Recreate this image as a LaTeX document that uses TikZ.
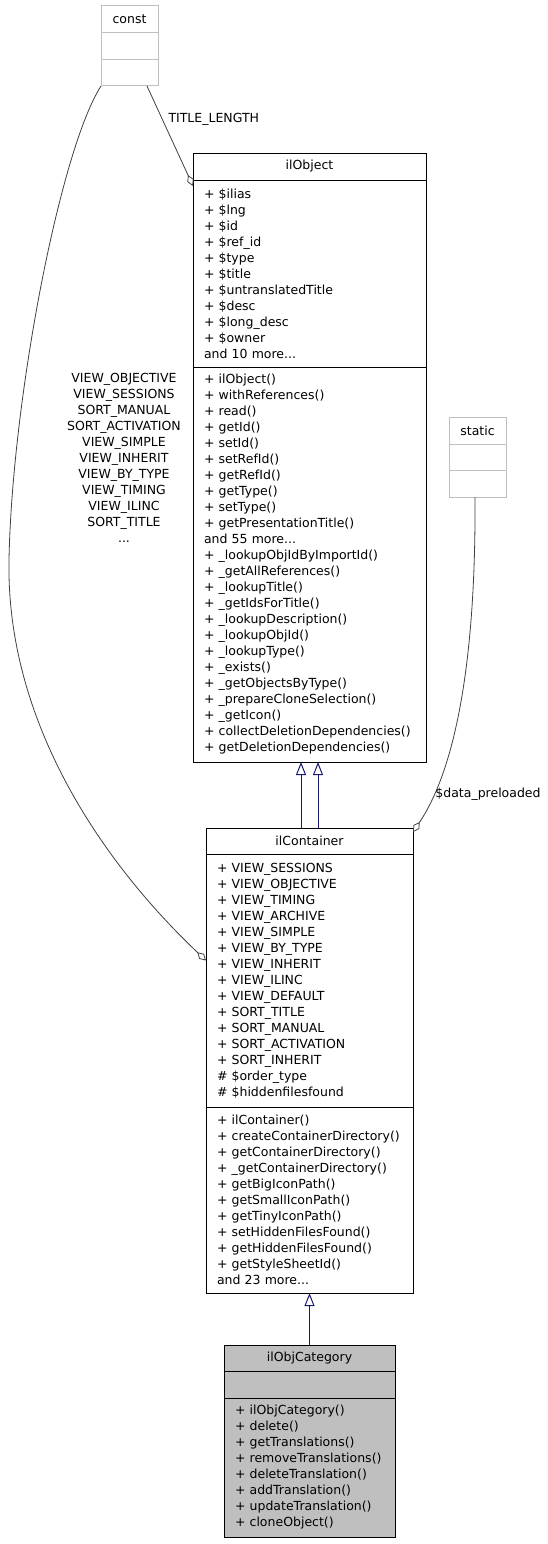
\documentclass[tikz,border=0pt]{standalone}
\usepackage{fontspec}
\setmainfont{DejaVu Sans}
\usetikzlibrary{arrows.meta,positioning}
\definecolor{grey75}{gray}{0.75}
\definecolor{grey25}{gray}{0.25}
\definecolor{midblue}{RGB}{25,25,112}

\begin{document}
\begin{tikzpicture}[x=1pt,y=-1pt,
    every node/.style={font=\fontsize{12.5pt}{16pt}\selectfont,inner ysep=0pt,outer sep=0pt,text=black},
    cls/.style={draw=black,line width=1pt,fill=white,inner xsep=11pt},
    hd/.style={cls,align=center},
    bd/.style={cls,align=left},
    ext/.style={draw=grey75,line width=1pt,fill=white,minimum width=57pt},
    inherit/.style={midblue,line width=1pt,-{Triangle[open,length=13pt,width=10pt]}},
    aggr/.style={grey25,line width=0.8pt,-{Diamond[open,length=12pt,width=7pt]}}]
  \useasboundingbox(0,0)rectangle(548,1544);
  % outside names
  \node[ext,minimum height=27pt](constT)at(129.5,19.5){const};
  \node[ext,minimum height=27pt,below=0pt of constT](constA){};
  \node[ext,minimum height=26pt,below=0pt of constA](constM){};
  \node[ext,minimum height=27pt](staticT)at(477.5,430.5){static};
  \node[ext,minimum height=26pt,below=0pt of staticT](staticA){};
  \node[ext,minimum height=27pt,below=0pt of staticA](staticM){};
  % ilObject
  \node[hd,text width=211pt,minimum height=27pt](objT)at(309.5,166.5){ilObject};
  \node[bd,text width=211pt,minimum height=187pt,below=0pt of objT](objA){%
    + \$ilias\\+ \$lng\\+ \$id\\+ \$ref\_id\\+ \$type\\+ \$title\\
    + \$untranslatedTitle\\+ \$desc\\+ \$long\_desc\\+ \$owner\\and 10 more...};
  \node[bd,text width=211pt,minimum height=395pt,below=0pt of objA](objM){%
    + ilObject()\\+ withReferences()\\+ read()\\+ getId()\\+ setId()\\
    + setRefId()\\+ getRefId()\\+ getType()\\+ setType()\\
    + getPresentationTitle()\\and 55 more...\\+ \_lookupObjIdByImportId()\\
    + \_getAllReferences()\\+ \_lookupTitle()\\+ \_getIdsForTitle()\\
    + \_lookupDescription()\\+ \_lookupObjId()\\+ \_lookupType()\\
    + \_exists()\\+ \_getObjectsByType()\\+ \_prepareCloneSelection()\\
    + \_getIcon()\\+ collectDeletionDependencies()\\+ getDeletionDependencies()};
  % ilContainer
  \node[hd,text width=185pt,minimum height=26pt](ctT)at(309.5,841){ilContainer};
  \node[bd,text width=185pt,minimum height=253pt,below=0pt of ctT](ctA){%
    + VIEW\_SESSIONS\\+ VIEW\_OBJECTIVE\\+ VIEW\_TIMING\\+ VIEW\_ARCHIVE\\
    + VIEW\_SIMPLE\\+ VIEW\_BY\_TYPE\\+ VIEW\_INHERIT\\+ VIEW\_ILINC\\
    + VIEW\_DEFAULT\\+ SORT\_TITLE\\+ SORT\_MANUAL\\+ SORT\_ACTIVATION\\
    + SORT\_INHERIT\\\# \$order\_type\\\# \$hiddenfilesfound};
  \node[bd,text width=185pt,minimum height=186pt,below=0pt of ctA](ctM){%
    + ilContainer()\\+ createContainerDirectory()\\+ getContainerDirectory()\\
    + \_getContainerDirectory()\\+ getBigIconPath()\\+ getSmallIconPath()\\
    + getTinyIconPath()\\+ setHiddenFilesFound()\\+ getHiddenFilesFound()\\
    + getStyleSheetId()\\and 23 more...};
  % ilObjCategory
  \node[hd,fill=grey75,text width=149pt,minimum height=26pt](catT)at(309.5,1358){ilObjCategory};
  \node[bd,fill=grey75,text width=149pt,minimum height=27pt,below=0pt of catT](catA){};
  \node[bd,fill=grey75,text width=149pt,minimum height=139pt,below=0pt of catA](catM){%
    + ilObjCategory()\\+ delete()\\+ getTranslations()\\+ removeTranslations()\\
    + deleteTranslation()\\+ addTranslation()\\+ updateTranslation()\\+ cloneObject()};
  % inheritance
  \draw[inherit]([xshift=-8.5pt]ctT.north)--([xshift=-8.5pt]objM.south);
  \draw[inherit]([xshift=8.5pt]ctT.north)--([xshift=8.5pt]objM.south);
  \draw[inherit](catT.north)--(ctM.south);
  % usage
  \draw[aggr]([xshift=17.5pt]constM.south)--node[pos=0.33,right=3pt]{TITLE\_LENGTH}([yshift=-6pt]objA.north west);
  \draw[aggr](constM.south west)..controls(60,150)and(12,400)..(9,560)
    ..controls(6,720)and(100,860)..([yshift=20pt]ctA.west);
  \node[align=center](viewL)at(124,458){VIEW\_OBJECTIVE\\VIEW\_SESSIONS\\SORT\_MANUAL\\
    SORT\_ACTIVATION\\VIEW\_SIMPLE\\VIEW\_INHERIT\\VIEW\_BY\_TYPE\\VIEW\_TIMING\\
    VIEW\_ILINC\\SORT\_TITLE\\...};
  \draw[aggr]([xshift=-2.5pt]staticM.south)..controls(476,650)and(458,765)..([yshift=-4pt]ctT.north east);
  \node(dataL)at(488,794){\$data\_preloaded};
\end{tikzpicture}
\end{document}
